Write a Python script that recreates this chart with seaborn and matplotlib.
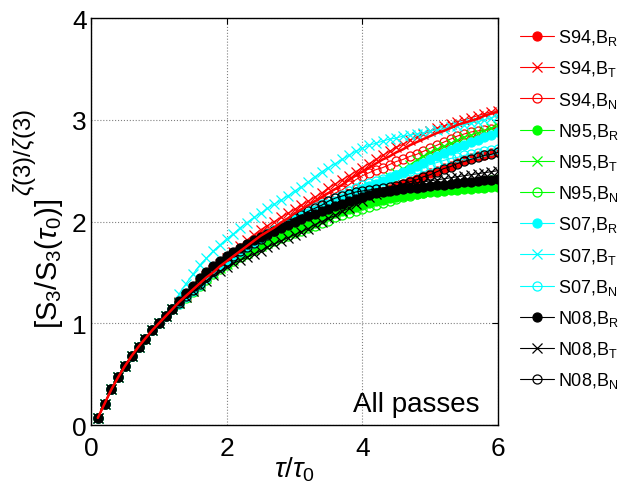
import matplotlib
matplotlib.use('Agg')
import matplotlib.pyplot as plt
import numpy as np
import pandas as pd
import seaborn as sns

sns.set_style('white')
plt.rcParams['font.family'] = ['Liberation Sans', 'DejaVu Sans']
plt.rcParams['mathtext.fontset'] = 'custom'
plt.rcParams['mathtext.rm'] = 'Liberation Sans'
plt.rcParams['mathtext.it'] = 'Liberation Sans:italic'
plt.rcParams['mathtext.bf'] = 'Liberation Sans:bold'
plt.rcParams['text.color'] = 'black'
plt.rcParams['axes.labelcolor'] = 'black'

# tau / tau_0 sampled every 0.1
tau = np.round(np.arange(1, 61) * 0.1, 1)

# all curves coincide up to tau ~ 1.2
base = [0.07, 0.21, 0.35, 0.47, 0.58, 0.68, 0.77, 0.85, 0.93, 1.00, 1.07, 1.14]

fit_line = base + [1.21, 1.27, 1.33, 1.39, 1.45, 1.50, 1.56,
                   1.61, 1.66, 1.71, 1.76, 1.81, 1.86, 1.90, 1.94, 1.99, 2.03,
                   2.08, 2.12, 2.16, 2.20, 2.24, 2.28, 2.32, 2.36, 2.41, 2.45,
                   2.49, 2.53, 2.57, 2.61, 2.64, 2.68, 2.71, 2.75, 2.78, 2.81,
                   2.84, 2.87, 2.89, 2.92, 2.95, 2.97, 2.99, 3.01, 3.04, 3.06, 3.08]

s94_br = base + [1.21, 1.28, 1.35, 1.42, 1.48, 1.54, 1.59,
                 1.64, 1.69, 1.74, 1.78, 1.82, 1.86, 1.89, 1.92, 1.95, 1.98,
                 2.01, 2.04, 2.07, 2.09, 2.12, 2.14, 2.16, 2.18, 2.20, 2.22,
                 2.23, 2.25, 2.27, 2.29, 2.32, 2.35, 2.37, 2.40, 2.42, 2.45,
                 2.48, 2.50, 2.53, 2.55, 2.58, 2.60, 2.62, 2.64, 2.65, 2.67, 2.68]
s94_bt = base + [1.21, 1.28, 1.34, 1.40, 1.46, 1.52, 1.58,
                 1.64, 1.70, 1.76, 1.82, 1.87, 1.92, 1.96, 2.00, 2.04, 2.08,
                 2.12, 2.16, 2.20, 2.24, 2.28, 2.33, 2.37, 2.41, 2.45, 2.49,
                 2.53, 2.57, 2.61, 2.65, 2.69, 2.73, 2.76, 2.80, 2.83, 2.86,
                 2.89, 2.92, 2.94, 2.96, 2.98, 3.00, 3.02, 3.04, 3.06, 3.08, 3.09]
s94_bn = base + [1.20, 1.27, 1.33, 1.39, 1.45, 1.50, 1.55,
                 1.60, 1.65, 1.70, 1.74, 1.79, 1.83, 1.87, 1.91, 1.95, 1.99,
                 2.03, 2.07, 2.11, 2.15, 2.19, 2.24, 2.28, 2.31, 2.36, 2.41,
                 2.45, 2.48, 2.51, 2.53, 2.56, 2.59, 2.61, 2.64, 2.66, 2.69,
                 2.72, 2.75, 2.78, 2.81, 2.84, 2.86, 2.88, 2.89, 2.90, 2.91, 2.92]
n95_br = base + [1.20, 1.27, 1.33, 1.39, 1.45, 1.50, 1.55,
                 1.59, 1.63, 1.67, 1.70, 1.74, 1.77, 1.80, 1.83, 1.86, 1.89,
                 1.91, 1.94, 1.96, 1.99, 2.02, 2.05, 2.08, 2.10, 2.12, 2.14,
                 2.16, 2.18, 2.20, 2.21, 2.23, 2.24, 2.25, 2.26, 2.27, 2.28,
                 2.29, 2.29, 2.30, 2.31, 2.31, 2.32, 2.32, 2.33, 2.33, 2.34, 2.34]
n95_bt = base + [1.20, 1.26, 1.32, 1.38, 1.44, 1.49, 1.54,
                 1.58, 1.62, 1.66, 1.69, 1.73, 1.76, 1.79, 1.83, 1.86, 1.89,
                 1.92, 1.96, 1.99, 2.03, 2.06, 2.10, 2.14, 2.18, 2.22, 2.26,
                 2.30, 2.34, 2.37, 2.41, 2.44, 2.48, 2.52, 2.56, 2.60, 2.64,
                 2.68, 2.71, 2.74, 2.77, 2.80, 2.83, 2.85, 2.87, 2.89, 2.92, 2.94]
n95_bn = base + [1.19, 1.25, 1.31, 1.37, 1.43, 1.48, 1.53,
                 1.57, 1.61, 1.65, 1.68, 1.72, 1.75, 1.78, 1.81, 1.84, 1.86,
                 1.89, 1.91, 1.94, 1.96, 1.99, 2.01, 2.04, 2.06, 2.08, 2.10,
                 2.12, 2.14, 2.16, 2.18, 2.20, 2.22, 2.24, 2.25, 2.27, 2.28,
                 2.30, 2.31, 2.32, 2.34, 2.35, 2.36, 2.37, 2.38, 2.39, 2.41, 2.42]
s07_br = base + [1.20, 1.27, 1.34, 1.40, 1.46, 1.52, 1.57,
                 1.62, 1.67, 1.72, 1.76, 1.80, 1.84, 1.88, 1.92, 1.95, 1.99,
                 2.02, 2.05, 2.08, 2.11, 2.14, 2.17, 2.20, 2.23, 2.26, 2.29,
                 2.32, 2.35, 2.37, 2.40, 2.43, 2.46, 2.49, 2.52, 2.55, 2.58,
                 2.61, 2.64, 2.67, 2.70, 2.73, 2.75, 2.78, 2.80, 2.83, 2.85, 2.88]
s07_bt = base + [1.29, 1.39, 1.48, 1.57, 1.64, 1.71, 1.77,
                 1.83, 1.88, 1.94, 1.99, 2.04, 2.08, 2.13, 2.17, 2.21, 2.25,
                 2.30, 2.34, 2.39, 2.44, 2.49, 2.53, 2.57, 2.61, 2.65, 2.69,
                 2.72, 2.75, 2.77, 2.79, 2.81, 2.82, 2.84, 2.85, 2.86, 2.87,
                 2.89, 2.90, 2.91, 2.93, 2.94, 2.95, 2.97, 2.98, 3.00, 3.02, 3.04]
s07_bn = base + [1.19, 1.26, 1.32, 1.38, 1.44, 1.50, 1.55,
                 1.60, 1.65, 1.70, 1.75, 1.79, 1.84, 1.88, 1.92, 1.96, 2.00,
                 2.04, 2.07, 2.11, 2.14, 2.17, 2.20, 2.23, 2.26, 2.30, 2.33,
                 2.36, 2.38, 2.40, 2.42, 2.44, 2.46, 2.48, 2.50, 2.52, 2.54,
                 2.56, 2.58, 2.60, 2.62, 2.63, 2.65, 2.66, 2.67, 2.69, 2.70, 2.71]
n08_br = base + [1.22, 1.30, 1.37, 1.44, 1.50, 1.56, 1.61,
                 1.66, 1.70, 1.74, 1.78, 1.82, 1.85, 1.88, 1.91, 1.94, 1.97,
                 2.00, 2.02, 2.05, 2.07, 2.10, 2.12, 2.15, 2.17, 2.20, 2.22,
                 2.24, 2.26, 2.28, 2.29, 2.30, 2.31, 2.32, 2.33, 2.33, 2.34,
                 2.35, 2.36, 2.36, 2.37, 2.38, 2.39, 2.39, 2.40, 2.41, 2.41, 2.42]
n08_bt = base + [1.20, 1.26, 1.32, 1.37, 1.42, 1.47, 1.51,
                 1.55, 1.59, 1.62, 1.65, 1.68, 1.71, 1.75, 1.78, 1.81, 1.84,
                 1.87, 1.90, 1.93, 1.97, 2.00, 2.03, 2.06, 2.10, 2.13, 2.17,
                 2.20, 2.24, 2.27, 2.30, 2.32, 2.34, 2.36, 2.37, 2.38, 2.39,
                 2.40, 2.41, 2.42, 2.43, 2.44, 2.45, 2.46, 2.47, 2.48, 2.49, 2.50]
n08_bn = base + [1.20, 1.27, 1.33, 1.39, 1.45, 1.51, 1.56,
                 1.61, 1.66, 1.71, 1.75, 1.79, 1.83, 1.87, 1.91, 1.95, 1.99,
                 2.03, 2.06, 2.10, 2.13, 2.16, 2.20, 2.23, 2.25, 2.27, 2.29,
                 2.30, 2.31, 2.32, 2.33, 2.34, 2.35, 2.37, 2.39, 2.41, 2.44,
                 2.46, 2.49, 2.52, 2.54, 2.57, 2.59, 2.61, 2.63, 2.65, 2.66, 2.68]

# (label, values, colour, marker, filled)
series = [
    (r'S94,B$_\mathrm{R}$', s94_br, '#ff0000', 'o', True),
    (r'S94,B$_\mathrm{T}$', s94_bt, '#ff0000', 'x', False),
    (r'S94,B$_\mathrm{N}$', s94_bn, '#ff0000', 'o', False),
    (r'N95,B$_\mathrm{R}$', n95_br, '#00ff00', 'o', True),
    (r'N95,B$_\mathrm{T}$', n95_bt, '#00ff00', 'x', False),
    (r'N95,B$_\mathrm{N}$', n95_bn, '#00ff00', 'o', False),
    (r'S07,B$_\mathrm{R}$', s07_br, '#00ffff', 'o', True),
    (r'S07,B$_\mathrm{T}$', s07_bt, '#00ffff', 'x', False),
    (r'S07,B$_\mathrm{N}$', s07_bn, '#00ffff', 'o', False),
    (r'N08,B$_\mathrm{R}$', n08_br, '#000000', 'o', True),
    (r'N08,B$_\mathrm{T}$', n08_bt, '#000000', 'x', False),
    (r'N08,B$_\mathrm{N}$', n08_bn, '#000000', 'o', False),
]

fig = plt.figure(figsize=(6.33, 4.89), dpi=100)
ax = fig.add_axes([0.1438, 0.1288, 0.643, 0.8323])

for label, vals, col, mk, filled in series:
    df = pd.DataFrame({'tau': tau, 'val': vals})
    sns.lineplot(data=df, x='tau', y='val', ax=ax, color=col, linewidth=0.8,
                 marker=mk, markersize=6.5 if mk == 'o' else 7,
                 markerfacecolor=col if filled else 'none',
                 markeredgecolor=col, markeredgewidth=0.9, label=label)

# model curve (not in legend)
sns.lineplot(x=tau, y=fit_line, ax=ax, color='#ff0000', linewidth=1.8,
             legend=False)

ax.set_xlim(0, 6)
ax.set_ylim(0, 4)
ax.set_xticks([0, 2, 4, 6])
ax.set_yticks([0, 1, 2, 3, 4])
ax.grid(True, linestyle=':', color='0.5', linewidth=0.8)
ax.tick_params(axis='both', direction='in', length=4, labelsize=19,
               top=True, right=True, colors='black')
ax.tick_params(axis='x', pad=8)
ax.tick_params(axis='y', pad=3)
for s in ax.spines.values():
    s.set_color('black')
    s.set_linewidth(1.0)

ax.set_xlabel(r'$\tau/\tau_0$', fontsize=20, labelpad=-4)

# y label: MATLAB draws the exponent larger than mathtext would
ax.set_ylabel(r'$[\mathrm{S}_3/\mathrm{S}_3(\tau_0)]$', fontsize=21)
ax.yaxis.set_label_coords(-0.065, 0.398)
fig.text(25 / 633, 1 - 196 / 489, r'$\zeta(3)/\zeta(3)$', rotation=90,
         ha='center', va='bottom', fontsize=17)

ax.text(0.955, 0.02, 'All passes', transform=ax.transAxes, fontsize=20,
        ha='right', va='bottom')

ax.legend(loc='upper left', bbox_to_anchor=(1.035, 0.995), frameon=False,
          fontsize=13, handlelength=1.9, handletextpad=0.25, labelspacing=0.62,
          borderaxespad=0)

fig.savefig('out.png', dpi=100)
